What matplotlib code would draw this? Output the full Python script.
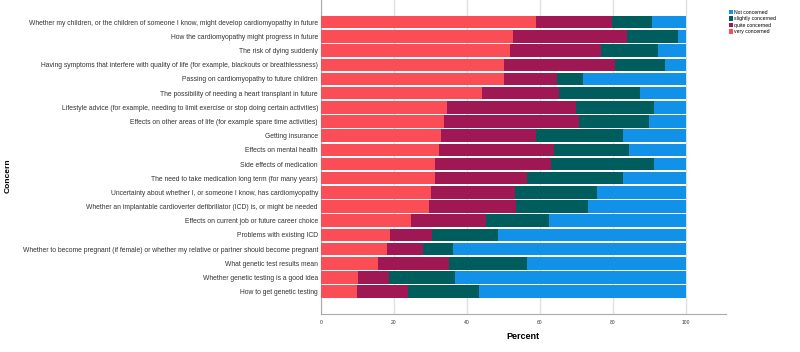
import numpy as np
import matplotlib.pyplot as plt

plt.rcParams['font.family'] = ['Liberation Sans', 'DejaVu Sans']

concerns = [
    "Whether my children, or the children of someone I know, might develop cardiomyopathy in future",
    "How the cardiomyopathy might progress in future",
    "The risk of dying suddenly",
    "Having symptoms that interfere with quality of life (for example, blackouts or breathlessness)",
    "Passing on cardiomyopathy to future children",
    "The possibility of needing a heart transplant in future",
    "Lifestyle advice (for example, needing to limit exercise or stop doing certain activities)",
    "Effects on other areas of life (for example spare time activities)",
    "Getting insurance",
    "Effects on mental health",
    "Side effects of medication",
    "The need to take medication long term (for many years)",
    "Uncertainty about whether I, or someone I know, has cardiomyopathy",
    "Whether an implantable cardioverter defibrillator (ICD) is, or might be needed",
    "Effects on current job or future career choice",
    "Problems with existing ICD",
    "Whether to become pregnant (if female) or whether my relative or partner should become pregnant",
    "What genetic test results mean",
    "Whether genetic testing is a good idea",
    "How to get genetic testing",
]

# percentages per response level
very = [59.0, 52.8, 51.9, 50.2, 50.1, 44.3, 34.7, 33.9, 32.9, 32.4,
        31.4, 31.2, 30.3, 29.6, 24.7, 18.9, 18.1, 15.8, 10.2, 9.9]
quite = [20.7, 31.1, 24.8, 30.3, 14.7, 21.1, 35.1, 36.9, 26.0, 31.6,
         31.7, 25.3, 22.8, 24.0, 20.5, 11.5, 10.0, 19.4, 8.6, 14.0]
slightly = [11.1, 13.9, 15.6, 13.9, 7.0, 22.0, 21.5, 19.2, 23.9, 20.3,
            28.3, 26.4, 22.7, 19.6, 17.3, 18.1, 8.1, 21.3, 17.9, 19.4]
not_conc = [9.2, 2.2, 7.7, 5.6, 28.2, 12.6, 8.7, 10.0, 17.2, 15.7,
            8.6, 17.1, 24.2, 26.8, 37.5, 51.5, 63.8, 43.5, 63.3, 56.7]

levels = ["very concerned", "quite concerned", "slightly concerned", "Not concerned"]
colors = ["#FA4D56", "#9F1853", "#005D5D", "#1192E8"]

fig = plt.figure(figsize=(8, 3.52), dpi=100)
ax = fig.add_axes([320.7 / 800, 1 - 314.3 / 352, (726 - 320.7) / 800, 314.3 / 352])

y = np.arange(len(concerns))
left = np.zeros(len(concerns))
handles = []
for vals, col, lab in zip([very, quite, slightly, not_conc], colors, levels):
    b = ax.barh(y, vals, left=left, height=0.88, color=col, label=lab, zorder=3)
    handles.append(b)
    left += np.array(vals)

ax.set_ylim(20.6, -1.57)
ax.set_xlim(0, 111)
ax.set_xticks([0, 20, 40, 60, 80, 100])
ax.tick_params(axis='x', labelsize=3.6, length=0, pad=4, colors='#333333')
ax.set_yticks(y)
ax.set_yticklabels(concerns, fontsize=4.85, color='#333333')
ax.tick_params(axis='y', length=0, pad=2)

ax.grid(axis='x', color='#e0e0e0', linewidth=1, zorder=0)
ax.spines['top'].set_visible(False)
ax.spines['right'].set_visible(False)
ax.spines['bottom'].set_color('#aaaaaa')
ax.spines['left'].set_color('#aaaaaa')

ax.set_xlabel("Percent", fontsize=6.5, fontweight='bold', labelpad=5)
fig.text(8 / 800, 0.5, "Concern", rotation=90, fontsize=6, fontweight='bold',
         ha='center', va='center')

fig.legend(handles[::-1], levels[::-1], loc='upper left',
           bbox_to_anchor=(724 / 800, 1 - 5 / 352), fontsize=3.7, frameon=False,
           handlelength=0.8, handleheight=1.0, handletextpad=0.3, labelspacing=0.3)

fig.savefig("out.png", dpi=100)
